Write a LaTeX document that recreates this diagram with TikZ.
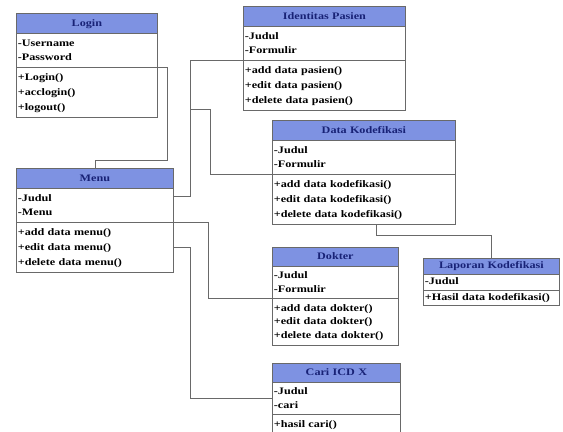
\documentclass[tikz,border=0pt]{standalone}
\usepackage{fontspec}
\newfontfamily\umlfont{Liberation Serif}[FakeStretch=1.22]
\usetikzlibrary{calc, shapes.multipart}
\definecolor{headblue}{RGB}{126,146,226}
\definecolor{headtext}{RGB}{24,34,118}
\definecolor{linegray}{RGB}{105,105,105}

\tikzset{
    classbox/.style={rectangle split, rectangle split parts=3, draw=linegray, line width=0.8bp,
        rectangle split part fill={headblue,white,white}, text width=#1, align=left,
        inner xsep=1.5bp, inner ysep=2bp, anchor=north west,
        font=\umlfont\bfseries\fontsize{10}{15}\selectfont},
    tightbox/.style={font=\umlfont\bfseries\fontsize{10}{14}\selectfont},
    link/.style={draw=linegray, line width=0.8bp}
}
\newcommand{\classhead}[1]{\hbox to\hsize{\hss\strut\color{headtext}#1\hss}}

\begin{document}
\begin{tikzpicture}[x=1bp, y=-1bp]
    \useasboundingbox (0,0) rectangle (563,431);

    % Login
    \node[classbox=138bp] (login) at (16,13) {\classhead{Login}
        \nodepart{two}\strut-Username\\\strut-Password
        \nodepart{three}\strut+Login()\\\strut+acclogin()\\\strut+logout()};

    % Identitas Pasien
    \node[classbox=159bp] (pasien) at (243,6) {\classhead{Identitas Pasien}
        \nodepart{two}\strut-Judul\\\strut-Formulir
        \nodepart{three}\strut+add data pasien()\\\strut+edit data pasien()\\\strut+delete data pasien()};

    % Menu
    \node[classbox=154bp] (menu) at (16,168) {\classhead{Menu}
        \nodepart{two}\strut-Judul\\\strut-Menu
        \nodepart{three}\strut+add data menu()\\\strut+edit data menu()\\\strut+delete data menu()};

    % Data Kodefikasi
    \node[classbox=180bp] (kode) at (272,120) {\classhead{Data Kodefikasi}
        \nodepart{two}\strut-Judul\\\strut-Formulir
        \nodepart{three}\strut+add data kodefikasi()\\\strut+edit data kodefikasi()\\\strut+delete data kodefikasi()};

    % Dokter
    \node[classbox=123bp, tightbox] (dokter) at (272,247) {\classhead{Dokter}
        \nodepart{two}\strut-Judul\\\strut-Formulir
        \nodepart{three}\strut+add data dokter()\\\strut+edit data dokter()\\\strut+delete data dokter()};

    % Laporan Kodefikasi
    \node[classbox=133bp, inner ysep=1bp, font=\umlfont\bfseries\fontsize{10}{13}\selectfont] (laporan) at (423,258) {\classhead{Laporan Kodefikasi}
        \nodepart{two}\strut-Judul
        \nodepart{three}\strut+Hasil data kodefikasi()};

    % Cari ICD X
    \node[classbox=125bp, tightbox] (cari) at (272,363) {\classhead{Cari ICD X}
        \nodepart{two}\strut-Judul\\\strut-cari
        \nodepart{three}\strut+hasil cari()};

    % Connectors
    \coordinate (hub) at ($(menu.text split east)+(17,8)$);
    \draw[link] (login.two split east) -- ++(10,0) |- ($(menu.north)+(0,-8)$) -- (menu.north);
    \draw[link] ($(menu.text split east)+(0,8)$) -- (hub) |- (pasien.two split west);
    \draw[link] (hub) |- ++(20,-87) |- (kode.two split west);
    \draw[link] (menu.two split east) -- ++(35,0) |- (dokter.two split west);
    \draw[link] ($(menu.two split east)+(0,25)$) -- ++(17,0) |- ($(cari.text split west)+(0,16)$);
    \draw[link] ($(kode.south)+(12,0)$) -- ++(0,11) -| (laporan.north);
\end{tikzpicture}
\end{document}
